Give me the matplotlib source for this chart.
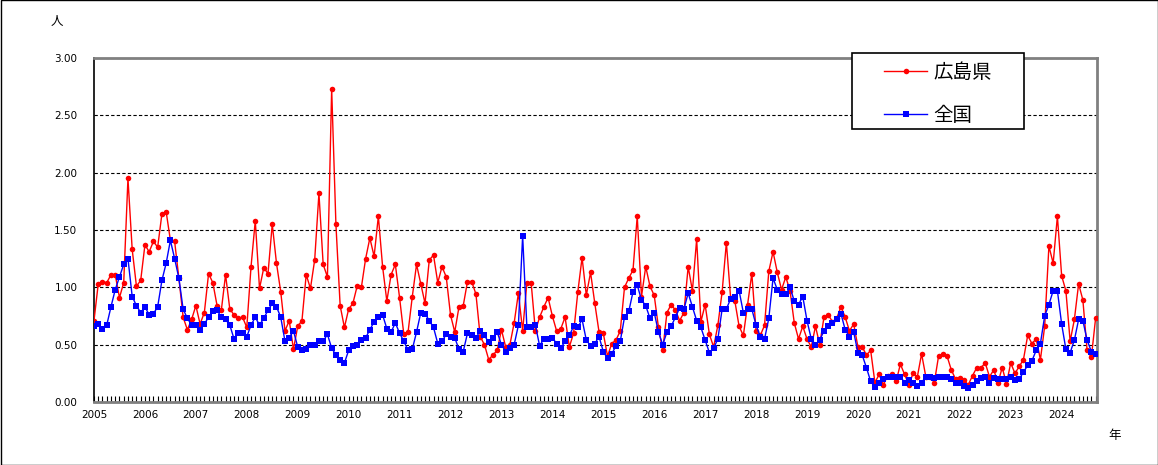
import matplotlib
matplotlib.use("Agg")
import matplotlib.pyplot as plt
from matplotlib.patches import Rectangle
import numpy as np

# 月次データ 2005年1月〜2024年9月
hiroshima = [
    0.71, 1.03, 1.05, 1.04, 1.11, 1.11, 0.91, 1.04, 1.95, 1.33, 1.01, 1.06,
    1.37, 1.31, 1.40, 1.35, 1.64, 1.66, 1.41, 1.40, 1.08, 0.74, 0.63, 0.72,
    0.84, 0.68, 0.78, 1.12, 1.04, 0.84, 0.80, 1.11, 0.81, 0.76, 0.73, 0.74,
    0.65, 1.18, 1.58, 0.99, 1.17, 1.12, 1.55, 1.21, 0.96, 0.62, 0.71, 0.46,
    0.66, 0.71, 1.11, 0.99, 1.24, 1.82, 1.20, 1.09, 2.73, 1.55, 0.84, 0.65,
    0.81, 0.86, 1.01, 1.00, 1.25, 1.43, 1.27, 1.62, 1.18, 0.88, 1.11, 1.20,
    0.91, 0.59, 0.61, 0.92, 1.20, 1.03, 0.86, 1.24, 1.28, 1.04, 1.18, 1.09,
    0.76, 0.61, 0.83, 0.84, 1.05, 1.05, 0.94, 0.57, 0.50, 0.37, 0.41, 0.45,
    0.63, 0.48, 0.50, 0.69, 0.95, 0.62, 1.04, 1.04, 0.62, 0.74, 0.83, 0.91,
    0.75, 0.62, 0.64, 0.74, 0.48, 0.60, 0.96, 1.26, 0.93, 1.13, 0.86, 0.61,
    0.60, 0.40, 0.51, 0.54, 0.62, 1.00, 1.08, 1.15, 1.62, 0.92, 1.18, 1.01,
    0.93, 0.65, 0.45, 0.78, 0.85, 0.80, 0.71, 0.78, 1.18, 0.97, 1.42, 0.70,
    0.85, 0.59, 0.48, 0.67, 0.96, 1.39, 0.91, 0.88, 0.66, 0.58, 0.85, 1.12,
    0.62, 0.58, 0.67, 1.14, 1.31, 1.13, 0.98, 1.09, 0.97, 0.69, 0.55, 0.66,
    0.55, 0.48, 0.66, 0.50, 0.74, 0.76, 0.70, 0.73, 0.83, 0.74, 0.62, 0.68,
    0.48, 0.48, 0.41, 0.45, 0.17, 0.24, 0.15, 0.23, 0.24, 0.18, 0.33, 0.24,
    0.15, 0.25, 0.22, 0.42, 0.22, 0.22, 0.17, 0.40, 0.42, 0.40, 0.28, 0.20,
    0.21, 0.19, 0.15, 0.23, 0.30, 0.30, 0.34, 0.22, 0.28, 0.17, 0.30, 0.16,
    0.34, 0.25, 0.31, 0.37, 0.58, 0.51, 0.55, 0.37, 0.66, 1.36, 1.21, 1.62,
    1.10, 0.97, 0.53, 0.72, 1.03, 0.89, 0.45, 0.39, 0.73,
]

zenkoku = [
    0.66, 0.68, 0.64, 0.67, 0.83, 0.98, 1.09, 1.20, 1.25, 0.92, 0.84, 0.78,
    0.83, 0.76, 0.77, 0.83, 1.06, 1.21, 1.41, 1.25, 1.08, 0.81, 0.73, 0.67,
    0.67, 0.63, 0.68, 0.74, 0.79, 0.80, 0.74, 0.72, 0.67, 0.55, 0.60, 0.60,
    0.57, 0.67, 0.74, 0.67, 0.73, 0.80, 0.86, 0.83, 0.74, 0.53, 0.56, 0.62,
    0.48, 0.45, 0.46, 0.50, 0.50, 0.53, 0.53, 0.59, 0.47, 0.41, 0.37, 0.34,
    0.45, 0.49, 0.50, 0.54, 0.56, 0.63, 0.70, 0.74, 0.76, 0.64, 0.61, 0.69,
    0.60, 0.53, 0.45, 0.46, 0.61, 0.78, 0.77, 0.71, 0.65, 0.51, 0.53, 0.59,
    0.57, 0.56, 0.46, 0.44, 0.60, 0.58, 0.56, 0.62, 0.58, 0.52, 0.56, 0.61,
    0.50, 0.44, 0.47, 0.50, 0.67, 1.45, 0.65, 0.65, 0.67, 0.49, 0.55, 0.55,
    0.56, 0.51, 0.47, 0.53, 0.58, 0.66, 0.65, 0.72, 0.54, 0.49, 0.51, 0.57,
    0.44, 0.38, 0.42, 0.49, 0.53, 0.74, 0.79, 0.96, 1.02, 0.89, 0.84, 0.73,
    0.78, 0.61, 0.50, 0.61, 0.66, 0.74, 0.82, 0.81, 0.95, 0.83, 0.71, 0.65,
    0.54, 0.43, 0.47, 0.55, 0.81, 0.81, 0.90, 0.92, 0.97, 0.78, 0.81, 0.81,
    0.67, 0.57, 0.55, 0.73, 1.08, 0.98, 0.94, 0.94, 1.00, 0.88, 0.85, 0.92,
    0.71, 0.55, 0.50, 0.54, 0.62, 0.66, 0.69, 0.72, 0.77, 0.63, 0.57, 0.61,
    0.43, 0.41, 0.30, 0.18, 0.13, 0.17, 0.20, 0.22, 0.22, 0.22, 0.22, 0.17,
    0.19, 0.17, 0.14, 0.17, 0.22, 0.22, 0.21, 0.22, 0.22, 0.22, 0.20, 0.17,
    0.17, 0.14, 0.12, 0.15, 0.18, 0.21, 0.22, 0.17, 0.21, 0.20, 0.20, 0.20,
    0.22, 0.19, 0.20, 0.26, 0.32, 0.36, 0.45, 0.51, 0.75, 0.85, 0.97, 0.97,
    0.68, 0.46, 0.43, 0.54, 0.72, 0.71, 0.54, 0.44, 0.42,
]

years = list(range(2005, 2025))
yticks = [0.0, 0.5, 1.0, 1.5, 2.0, 2.5, 3.0]

W, H = 1158, 465
fig = plt.figure(figsize=(W / 100, H / 100), dpi=100)
fig.patch.set_facecolor("white")

# プロット領域 (ピクセル指定)
ax = fig.add_axes([94 / W, 1 - 402 / H, 1003 / W, 344 / H])

months = np.arange(len(hiroshima))
ax.plot(months, hiroshima, color="#ff0000", lw=1.0, marker="o", ms=4,
        mew=0, label="広島県", zorder=3)
ax.plot(months, zenkoku, color="#0000ff", lw=1.0, marker="s", ms=4.3,
        mew=0, label="全国", zorder=4)

ax.set_xlim(0, 236.33)
ax.set_ylim(0, 3)

ax.set_yticks(yticks)
ax.set_yticklabels([f"{v:.2f}" for v in yticks], fontsize=7.5)
ax.set_xticks([12 * i for i in range(len(years))])
ax.set_xticklabels([str(y) for y in years], fontsize=7.5)
ax.set_xticks(months, minor=True)

ax.tick_params(axis="x", which="both", direction="in", length=4,
               width=0.8, color="black", pad=6)
ax.tick_params(axis="y", length=0, pad=12)

ax.yaxis.grid(True, linestyle=(0, (3, 2)), color="black", lw=0.8)
ax.set_axisbelow(True)

for side in ["top", "right", "bottom"]:
    ax.spines[side].set_color("#808080")
    ax.spines[side].set_linewidth(2)
ax.spines["left"].set_color("black")
ax.spines["left"].set_linewidth(1.2)

# 単位
fig.text(57 / W, 1 - 22 / H, "人", fontsize=9, ha="center", va="center",
         family=["Noto Sans CJK JP", "DejaVu Sans"])
fig.text(1115 / W, 1 - 435 / H, "年", fontsize=9, ha="center", va="center",
         family=["Noto Sans CJK JP", "DejaVu Sans"])

# 凡例の枠
fig.patches.append(Rectangle((852 / W, 1 - 129 / H), 172 / W, 76 / H,
                             transform=fig.transFigure, facecolor="white",
                             edgecolor="black", lw=1.2, zorder=5))
leg = fig.legend(loc="center", bbox_to_anchor=(938 / W, 1 - 94 / H),
                 frameon=False, borderpad=0, handlelength=2.2,
                 handletextpad=0.3, labelspacing=1.1,
                 prop={"family": ["Noto Sans CJK JP", "DejaVu Sans"], "size": 14})
leg.set_zorder(6)

# 外枠
fig.patches.append(Rectangle((0.5 / W, 0.5 / H), 1 - 1 / W, 1 - 1 / H,
                             transform=fig.transFigure, fill=False,
                             edgecolor="black", lw=1))

fig.savefig("out.png", dpi=100)
